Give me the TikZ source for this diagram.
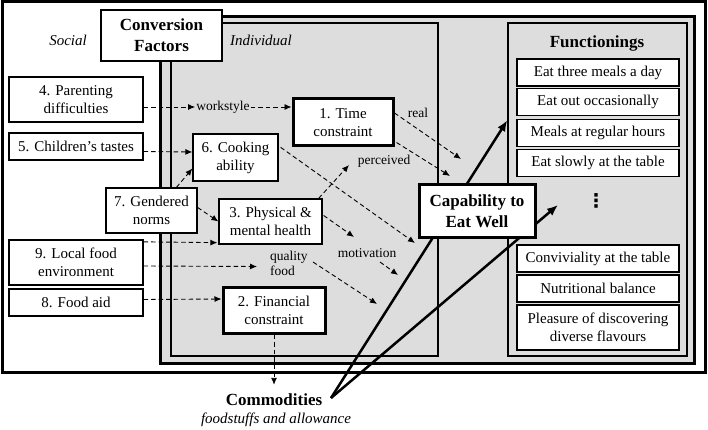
\documentclass[tikz,border=0pt]{standalone}
\usepackage{fontspec}
\setmainfont{Liberation Serif}
\newfontfamily\dejavu{DejaVu Sans}
\usetikzlibrary{arrows.meta,calc}
\definecolor{bggray}{RGB}{221,221,221}
\begin{document}
\begin{tikzpicture}[x=1pt,y=-1pt,
  box/.style={draw, fill=white, line width=1.3pt, align=center, inner sep=1pt, font=\fontsize{15}{18}\selectfont},
  tbox/.style={box, line width=3pt},
  region/.style={draw, fill=bggray, line width=1.4pt, inner sep=0pt},
  hdr/.style={font=\fontsize{17}{21}\selectfont\bfseries, align=center, inner sep=1pt},
  lab/.style={font=\fontsize{13.5}{15}\selectfont, inner sep=1pt, align=left},
  itl/.style={font=\fontsize{15}{18}\selectfont\itshape, inner sep=1pt},
  dar/.style={line width=0.9pt, dash pattern=on 4.5pt off 3pt, -{Latex[length=7pt,width=6pt]}},
  sar/.style={line width=2.5pt, -{Latex[length=11pt,width=9pt]}}
]
\useasboundingbox (0,0) rectangle (708,430);
% frames
\draw[line width=3pt, fill=white] (2,2) rectangle (705,372);
\draw[line width=3pt, fill=bggray] (160,17) rectangle (694,363);
\node[region, minimum width=267, minimum height=333] (indiv) at (304.5,189.5) {};
\node[region, minimum width=179, minimum height=333] (fun) at (597.5,189.5) {};

% header labels
\node[itl] (social) at (68,40) {Social};
\node[itl] (indl) at (261,40) {Individual};
\node[hdr] (funh) at (597,43) {Functionings};

% functionings items
\node[box, minimum width=162, minimum height=27] (e1) at (598,72.5) {Eat three meals a day};
\node[box, minimum width=162, minimum height=27] (e2) at (598,102) {Eat out occasionally};
\node[box, minimum width=162, minimum height=27] (e3) at (598,133) {Meals at regular hours};
\node[box, minimum width=162, minimum height=27] (e4) at (598,163) {Eat slowly at the table};
\node[font=\fontsize{19}{19}\selectfont\dejavu\bfseries, inner sep=0pt] (dots) at (596,201) {⋮};
\node[box, minimum width=162, minimum height=27] (e5) at (598,258.5) {Conviviality at the table};
\node[box, minimum width=162, minimum height=27] (e6) at (598,288.5) {Nutritional balance};
\node[box, minimum width=162, minimum height=45] (e7) at (598,327.5) {Pleasure of discovering\\diverse flavours};

% commodities
\node[hdr, inner sep=2pt] (com) at (274,400) {Commodities};
\node[itl] (comsub) at (276,420) {foodstuffs and allowance};
\coordinate (cs) at (331,398);
\coordinate (fe) at (558,205);
\draw[sar] (cs) -- ($(fun.north west)+(0,98)$);
\draw[sar] (cs) -- (fe);

% conversion factors box
\node[box, font=\fontsize{17}{21}\selectfont\bfseries, minimum width=121, minimum height=51] (cf) at (161.5,35.5) {Conversion\\Factors};

% left social boxes
\node[box, minimum width=134, minimum height=45] (p4) at (76,99.5) {4. Parenting\\difficulties};
\node[box, minimum width=134, minimum height=27] (p5) at (76,146.5) {5. Children’s tastes};
\node[box, minimum width=91, minimum height=45] (p7) at (151.5,210.5) {7. Gendered\\norms};
\node[box, minimum width=134, minimum height=45] (p9) at (76,262.5) {9. Local food\\environment};
\node[box, minimum width=134, minimum height=27] (p8) at (76,302.5) {8. Food aid};

% individual boxes
\node[tbox, minimum width=100, minimum height=47] (t1) at (343,122.5) {1. Time\\constraint};
\node[box, minimum width=85, minimum height=47] (c6) at (235.5,157.5) {6. Cooking\\ability};
\node[box, minimum width=103, minimum height=45] (h3) at (270.5,221.5) {3. Physical \&\\mental health};
\node[tbox, minimum width=102, minimum height=46] (f2) at (274,310) {2. Financial\\constraint};
\node[tbox, font=\fontsize{17}{21}\selectfont\bfseries, minimum width=116, minimum height=52] (cap) at (477,211) {Capability to\\Eat Well};

% small labels
\node[lab] (ws) at (223,107) {workstyle};
\node[lab] (real) at (418,113) {real};
\node[lab] (per) at (384,161) {perceived};
\node[lab] (mot) at (367,253) {motivation};
\node[lab, anchor=west] (qf) at (269,263) {quality\\food};

% free ends
\coordinate (aReal) at (461,159);
\coordinate (aPer) at (450,176);
\coordinate (aPh) at (349,165);
\coordinate (a6) at (415,243);
\coordinate (a3m) at (354,237);
\coordinate (m1) at (380,262);
\coordinate (m2) at (398,275);
\coordinate (q1) at (313,262);
\coordinate (q2) at (377,304);

% dashed connectors
\draw[dar] (p4.east |- ws) -- (ws.west);
\draw[dar] (ws.east) -- (ws -| t1.west);
\draw[dar] ($(p5.east)+(0,5)$) -- ($(c6.west)+(0,-5.5)$);
\draw[dar] ($(p7.north)+(25,0)$) -- ($(c6.west)+(0,11)$);
\draw[dar] ($(p7.east)+(0,-3)$) -- (h3.west);
\draw[dar] ($(p9.north east)+(0,2.5)$) -- ($(h3.south west)+(-1,-2)$);
\draw[dar] ($(p9.east)+(0,3.5)$) -- ($(qf.west)+(-12,3.5)$);
\draw[dar] ($(p8.east)+(0,-3)$) -- ($(f2.west)+(0,-11)$);
\draw[dar] (f2.south) -- ([yshift=7pt]com.north);
\draw[dar] ($(t1.east)+(0,-9.5)$) -- (aReal);
\draw[dar] ($(t1.south east)+(2,-5)$) -- (aPer);
\draw[dar] ($(h3.north east)+(-4,0)$) -- (aPh);
\draw[dar] ($(c6.north east)+(2,14)$) -- (a6);
\draw[dar] ($(h3.east)+(1,-6)$) -- (a3m);
\draw[dar] (m1) -- (m2);
\draw[dar] (q1) -- (q2);
\end{tikzpicture}
\end{document}
